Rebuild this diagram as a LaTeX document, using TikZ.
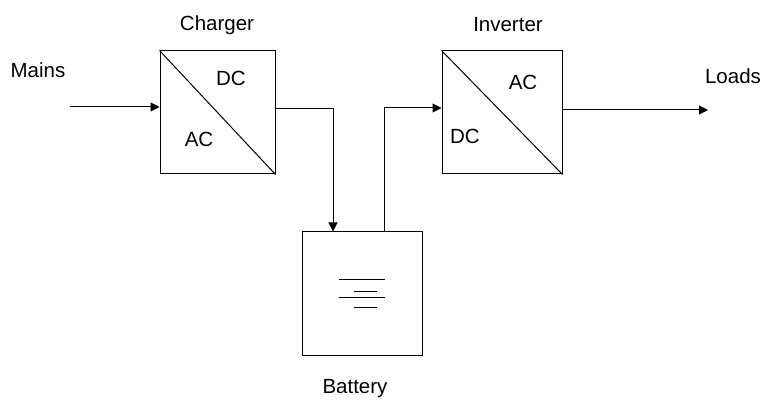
\documentclass[tikz,border=0pt]{standalone}
\usepackage{fontspec}
\setmainfont{Liberation Sans}
\usetikzlibrary{arrows.meta}
\begin{document}
\begin{tikzpicture}[x=1pt,y=-1pt,
  blk/.style={draw,line width=1pt,inner sep=0pt},
  lbl/.style={font=\fontsize{20.5}{22}\selectfont,inner sep=0pt},
  wire/.style={line width=1pt},
  arr/.style={wire,-{Triangle[length=9pt,width=9pt]}}]
\useasboundingbox (0,0) rectangle (772,401);
% boxes
\node[blk,minimum width=115pt,minimum height=123pt] (chg) at (217.5,112.5) {};
\node[blk,minimum width=120pt,minimum height=123pt] (inv) at (502,112.5) {};
\node[blk,minimum width=120pt,minimum height=123pt] (bat) at (362,293.5) {};
\draw[wire] (chg.north west) -- (chg.south east);
\draw[wire] (inv.north west) -- (inv.south east);
% labels
\node[lbl] (tchg) at (217,25) {Charger};
\node[lbl] (tinv) at (508,25) {Inverter};
\node[lbl] (tbat) at (355,389) {Battery};
\node[lbl] (tmains) at (38,70) {Mains};
\node[lbl] (tloads) at (733,76) {Loads};
\node[lbl] (cdc) at (231,78) {DC};
\node[lbl] (cac) at (199,139) {AC};
\node[lbl] (iac) at (523,82) {AC};
\node[lbl] (idc) at (465,136) {DC};
% battery symbol
\coordinate (b1l) at (339,279); \coordinate (b1r) at (385,279);
\coordinate (b2l) at (354,291); \coordinate (b2r) at (377,291);
\coordinate (b3l) at (339,297); \coordinate (b3r) at (385,297);
\coordinate (b4l) at (354,307); \coordinate (b4r) at (377,307);
\draw[wire] (b1l) -- (b1r) (b2l) -- (b2r) (b3l) -- (b3r) (b4l) -- (b4r);
% connectors
\coordinate (min) at (70,107);
\coordinate (lout) at (708,110);
\draw[arr] (min) -- (chg.west |- min);
\draw[arr] (chg.east |- 0,109) -| (bat.north -| 333,0);
\draw[arr] (bat.north -| 384,0) |- (inv.west |- 0,108);
\draw[arr] (inv.east |- lout) -- (lout);
\end{tikzpicture}
\end{document}
